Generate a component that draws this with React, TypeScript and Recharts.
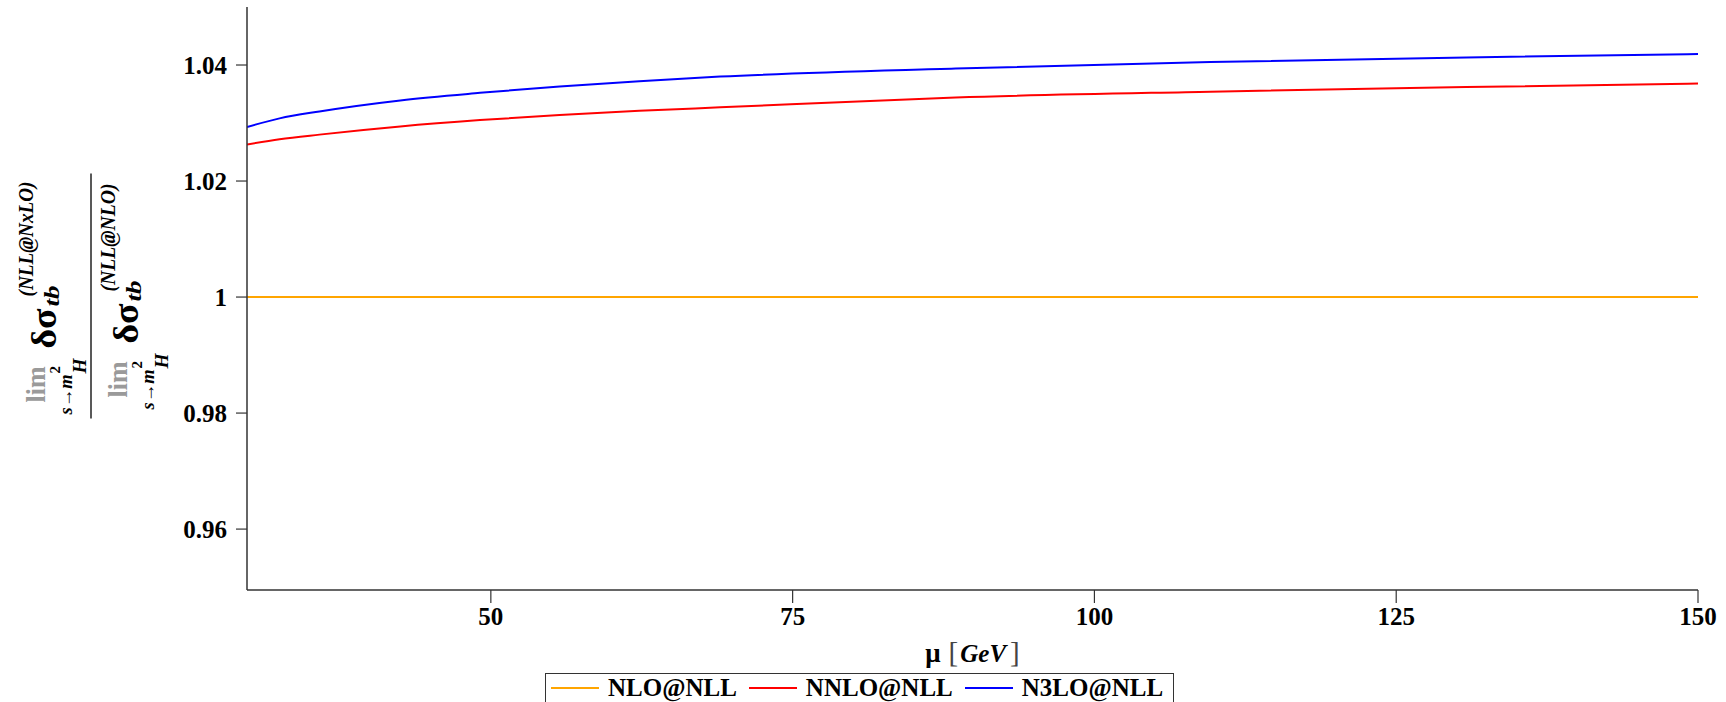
import { LineChart, Line, XAxis, YAxis, Legend } from 'recharts';

// scale mu in GeV
const muValues = [29.8, 32.5, 35.8, 42.5, 49.1, 55.7, 62.3, 69.0, 88.5, 109.6, 130.8, 150];
const nloValues = [1, 1, 1, 1, 1, 1, 1, 1, 1, 1, 1, 1];
const nnloValues = [1.0263, 1.0272, 1.028, 1.0294, 1.0305, 1.0314, 1.0321, 1.0327, 1.0344, 1.0354, 1.0362, 1.0368];
const n3loValues = [1.0293, 1.0308, 1.032, 1.0339, 1.0352, 1.0363, 1.0372, 1.038, 1.0394, 1.0405, 1.0413, 1.0419];

const xTicks = [50, 75, 100, 125, 150];
const yTicks = [0.96, 0.98, 1, 1.02, 1.04];

const SERIES = [
  { key: 'nlo', name: 'NLO@NLL', color: '#FFA500' },
  { key: 'nnlo', name: 'NNLO@NLL', color: '#FF0000' },
  { key: 'n3lo', name: 'N3LO@NLL', color: '#0000FF' },
];

const data = muValues.map((mu, i) => ({
  mu,
  nlo: nloValues[i],
  nnlo: nnloValues[i],
  n3lo: n3loValues[i],
}));

const FONT = '"Liberation Serif", "Times New Roman", serif';
const AXIS = '#333';

function XLabel(props: any) {
  const vb = props.viewBox ?? { x: 247, y: 590, width: 1451, height: 112 };
  const cx = vb.x + vb.width / 2;
  return (
    <text x={cx} y={vb.y + 72} textAnchor="middle" fontFamily={FONT} fontSize={25} fill="#000">
      <tspan fontWeight="bold" fontSize={27}>μ</tspan>
      <tspan dx={8} fontSize={29} fill="#444">[</tspan>
      <tspan dx={2} fontWeight="bold" fontStyle="italic">GeV</tspan>
      <tspan dx={4} fontSize={29} fill="#444">]</tspan>
    </text>
  );
}

// one "lim_{s→m_H^2} δσ_tb^(...)" block, drawn along the rotated axis
function LimBlock({ u0, v0, sup, supLen }: { u0: number; v0: number; sup: string; supLen: number }) {
  return (
    <g>
      <text x={u0 + 12} y={v0} fontSize={27} fill="#9a9a9a" textLength={36} lengthAdjust="spacingAndGlyphs">lim</text>
      <text x={u0} y={v0 + 27} fontSize={18} fontStyle="italic" textLength={40} lengthAdjust="spacingAndGlyphs">s→m</text>
      <text x={u0 + 41} y={v0 + 15} fontSize={15}>2</text>
      <text x={u0 + 41} y={v0 + 41} fontSize={18} fontStyle="italic" textLength={15} lengthAdjust="spacingAndGlyphs">H</text>
      <text x={u0 + 66} y={v0 + 11} fontSize={36} textLength={40} lengthAdjust="spacingAndGlyphs">δσ</text>
      <text x={u0 + 108} y={v0 + 14} fontSize={21} fontStyle="italic" textLength={21} lengthAdjust="spacingAndGlyphs">tb</text>
      <text x={u0 + 118} y={v0 - 12} fontSize={20} fontStyle="italic" textLength={supLen} lengthAdjust="spacingAndGlyphs">{sup}</text>
    </g>
  );
}

// rotated fraction: lim δσ^(NLL@NxLO) / lim δσ^(NLL@NLO)
function YLabel(props: any) {
  const vb = props.viewBox ?? { x: 0, y: 7, width: 247, height: 583 };
  const x0 = vb.x + 91;
  const y0 = vb.y + vb.height / 2 + 120;
  return (
    <g transform={`translate(${x0},${y0}) rotate(-90)`} fontFamily={FONT} fontWeight="bold" fill="#000">
      <line x1={0} y1={0} x2={245} y2={0} stroke="#222" strokeWidth={1.5} />
      <LimBlock u0={4} v0={-46} sup="(NLL@NxLO)" supLen={115} />
      <LimBlock u0={9} v0={36} sup="(NLL@NLO)" supLen={108} />
    </g>
  );
}

function LegendBox() {
  return (
    <div
      style={{
        display: 'inline-flex',
        alignItems: 'flex-start',
        border: `1.5px solid ${AXIS}`,
        height: 40,
        boxSizing: 'border-box',
        padding: '0 10px 0 5px',
        fontFamily: FONT,
        fontWeight: 'bold',
        fontSize: 25,
        lineHeight: '28px',
        color: '#000',
        background: '#fff',
      }}
    >
      {SERIES.map((s, i) => (
        <div key={s.key} style={{ display: 'flex', alignItems: 'center', height: 28, marginLeft: i ? 12 : 0 }}>
          <svg width={48} height={4}>
            <line x1={0} y1={2} x2={48} y2={2} stroke={s.color} strokeWidth={2} />
          </svg>
          <span style={{ marginLeft: 9 }}>{s.name}</span>
        </div>
      ))}
    </div>
  );
}

export default function App() {
  return (
    <div style={{ position: 'absolute', left: 0, top: 0, width: 1726, height: 702, overflow: 'hidden', background: '#fff' }}>
      <LineChart width={1726} height={702} data={data} margin={{ top: 7, right: 28, bottom: 0, left: 0 }}>
        <XAxis
          dataKey="mu"
          type="number"
          domain={[29.8, 150]}
          ticks={xTicks}
          allowDataOverflow
          height={112}
          tickSize={13}
          tickMargin={4}
          axisLine={{ stroke: AXIS, strokeWidth: 1.5 }}
          tickLine={{ stroke: AXIS, strokeWidth: 1.2 }}
          tick={{ fontFamily: FONT, fontSize: 25, fontWeight: 'bold', fill: '#000' }}
          label={<XLabel />}
        />
        <YAxis
          type="number"
          domain={[0.9495, 1.05]}
          ticks={yTicks}
          allowDataOverflow
          width={247}
          tickSize={11}
          tickMargin={9}
          axisLine={{ stroke: AXIS, strokeWidth: 1.5 }}
          tickLine={{ stroke: AXIS, strokeWidth: 1.2 }}
          tick={{ fontFamily: FONT, fontSize: 25, fontWeight: 'bold', fill: '#000' }}
          tickFormatter={(v: number) => String(v)}
          label={<YLabel />}
        />
        <Legend
          layout="horizontal"
          verticalAlign="middle"
          align="center"
          wrapperStyle={{ position: 'absolute', top: 673, left: 545, width: 'auto', height: 40 }}
          content={<LegendBox />}
        />
        {SERIES.map((s) => (
          <Line
            key={s.key}
            type="monotone"
            dataKey={s.key}
            name={s.name}
            stroke={s.color}
            strokeWidth={2}
            dot={false}
            isAnimationActive={false}
          />
        ))}
      </LineChart>
    </div>
  );
}
